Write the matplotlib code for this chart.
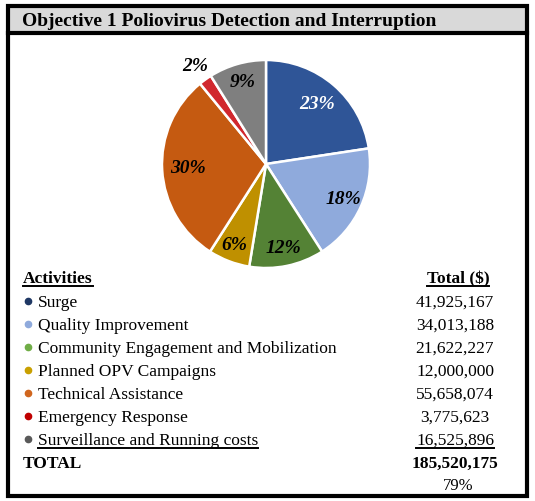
import matplotlib
matplotlib.use("Agg")
import matplotlib.pyplot as plt
import numpy as np
from matplotlib.patches import Rectangle

# data
activities = ['Surge', 'Quality Improvement', 'Community Engagement and Mobilization',
              'Planned OPV Campaigns', 'Technical Assistance', 'Emergency Response',
              'Surveillance and Running costs']
totals = [41925167, 34013188, 21622227, 12000000, 55658074, 3775623, 16525896]
wedge_colors = ['#2F5597', '#8FAADC', '#548235', '#BF9000', '#C55A11', '#D1282E', '#7F7F7F']
bullet_colors = ['#1F3864', '#8FAADC', '#70AD47', '#C9A000', '#D0661E', '#C00000', '#595959']
label_colors = ['white', 'black', 'black', 'black', 'black', 'black', 'black']
label_dist = [0.76, 0.82, 0.83, 0.84, 0.75, 1.16, 0.82]
share_of_total = '79%'
title = 'Objective 1 Poliovirus Detection and Interruption'

W, H = 535, 501
fig = plt.figure(figsize=(W / 100, H / 100), dpi=100)
ax = fig.add_axes([0, 0, 1, 1])
ax.set_xlim(0, W)
ax.set_ylim(H, 0)
ax.axis('off')

serif = 'Liberation Serif'

# frame and title bar
ax.add_patch(Rectangle((8, 6), 519, 27, facecolor='#D9D9D9', edgecolor='none'))
ax.plot([8, 527], [33, 33], color='black', lw=3)
ax.add_patch(Rectangle((8, 6), 519, 490, facecolor='none', edgecolor='black', lw=3))
ax.text(22, 26, title, fontfamily=serif, fontweight='bold', fontsize=14, va='baseline')

# pie
cx, cy, r = 266, 164, 104
pax = fig.add_axes([(cx - r) / W, (H - cy - r) / H, 2 * r / W, 2 * r / H])
wedges, _ = pax.pie(totals, colors=wedge_colors, startangle=90, counterclock=False,
                    wedgeprops=dict(edgecolor='white', linewidth=1.8))
pax.set_xlim(-1, 1)
pax.set_ylim(-1, 1)
pax.set_aspect('equal')
pax.axis('off')
tot = sum(totals)
for w, v, d, c in zip(wedges, totals, label_dist, label_colors):
    ang = np.deg2rad((w.theta1 + w.theta2) / 2)
    pax.text(d * np.cos(ang), d * np.sin(ang), '{:.0f}%'.format(100 * v / tot),
             ha='center', va='center', fontfamily=serif, fontweight='bold',
             fontstyle='italic', fontsize=14, color=c)

# table
fs = 12.5
underlined = []
underlined.append(ax.text(23, 283, 'Activities', fontfamily=serif, fontweight='bold',
                          fontsize=fs, va='baseline'))
underlined.append(ax.text(458, 283, 'Total ($)', fontfamily=serif, fontweight='bold',
                          fontsize=fs, va='baseline', ha='center'))
y0, dy = 307, 23
for i, (name, val, bc) in enumerate(zip(activities, totals, bullet_colors)):
    y = y0 + i * dy
    ax.plot(28, y - 6, 'o', color=bc, ms=4.5)
    t1 = ax.text(38, y, name, fontfamily=serif, fontsize=fs, va='baseline')
    t2 = ax.text(455, y, '{:,}'.format(val), fontfamily=serif, fontsize=fs,
                 va='baseline', ha='center')
    if i == len(activities) - 1:
        underlined += [t1, t2]
yt = y0 + len(activities) * dy
ax.text(23, yt, 'TOTAL', fontfamily=serif, fontweight='bold', fontsize=fs, va='baseline')
ax.text(455, yt, '{:,}'.format(tot), fontfamily=serif, fontweight='bold', fontsize=fs,
        va='baseline', ha='center')
ax.text(458, yt + 22, share_of_total, fontfamily=serif, fontsize=12, va='baseline', ha='center')

# underlines
fig.canvas.draw()
rend = fig.canvas.get_renderer()
inv = ax.transData.inverted()
for t in underlined:
    bb = t.get_window_extent(rend)
    x0, _ = inv.transform((bb.x0, bb.y0))
    x1, _ = inv.transform((bb.x1, bb.y0))
    yb = t.get_position()[1] + 3
    ax.plot([x0, x1], [yb, yb], color='black', lw=1.4)

fig.savefig('out.png', dpi=100)
